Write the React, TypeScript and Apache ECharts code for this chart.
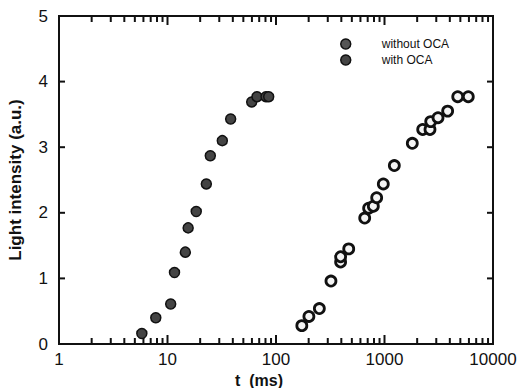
import React, { useEffect, useRef } from "react";
import * as echarts from "echarts";

const seriesNames = ["without OCA", "with OCA"];

const withoutT = [5.8, 7.8, 10.7, 11.6, 14.6, 15.5, 18.4, 22.8, 24.8, 32.0, 38.2, 59.7, 66.8, 80.9, 85.6];
const withoutI = [0.16, 0.40, 0.61, 1.09, 1.40, 1.77, 2.02, 2.44, 2.87, 3.10, 3.43, 3.69, 3.77, 3.77, 3.77];

const withT = [173, 201, 251, 321, 394, 394, 468, 657, 714, 789, 847, 975, 1232, 1804, 2249, 2626, 2666, 3114, 3820, 4731, 5919];
const withI = [0.28, 0.42, 0.54, 0.96, 1.25, 1.33, 1.45, 1.92, 2.07, 2.10, 2.23, 2.44, 2.72, 3.06, 3.27, 3.27, 3.39, 3.45, 3.55, 3.77, 3.77];

const decades = [1, 10, 100, 1000];
const minorMultipliers = [2, 3, 4, 5, 6, 7, 8, 9];
const majorX = [1, 10, 100, 1000, 10000];
const majorY = [1, 2, 3, 4];

const xMin = 1;
const xMax = 10000;
const yMin = 0;
const yMax = 5;

const W = 528;
const H = 388;
const G = { left: 59, right: 35, top: 16, bottom: 44 };

const FONT = "'Liberation Sans', Arial, Helvetica, sans-serif";
const ink = "#111";

function tickSeries(data: number[][], size: number[], offset: number[]) {
  return {
    type: "scatter",
    silent: true,
    clip: false,
    z: 1,
    symbol: "rect",
    symbolSize: size,
    symbolOffset: offset,
    data,
    itemStyle: { color: ink, opacity: 1 },
    emphasis: { disabled: true },
  };
}

export default function App() {
  const ref = useRef<HTMLDivElement>(null);

  useEffect(() => {
    if (!ref.current) return;
    const chart = echarts.init(ref.current, null, { renderer: "svg" });

    const minorX: number[] = [];
    decades.forEach((d) => minorMultipliers.forEach((m) => minorX.push(d * m)));

    const pw = W - G.left - G.right;
    const ph = H - G.top - G.bottom;

    chart.setOption({
      animation: false,
      backgroundColor: "#fff",
      textStyle: { fontFamily: FONT },
      grid: { left: G.left, right: G.right, top: G.top, bottom: G.bottom, containLabel: false, outerBoundsMode: "none" },
      graphic: [
        { type: "rect", z: 10, shape: { x: G.left - 1, y: G.top - 1, width: pw + 2, height: 2 }, style: { fill: ink } },
        { type: "rect", z: 10, shape: { x: G.left - 1, y: G.top + ph - 1, width: pw + 2, height: 2 }, style: { fill: ink } },
        { type: "rect", z: 10, shape: { x: G.left - 1, y: G.top - 1, width: 2, height: ph + 2 }, style: { fill: ink } },
        { type: "rect", z: 10, shape: { x: G.left + pw - 1, y: G.top - 1, width: 2, height: ph + 2 }, style: { fill: ink } },
      ],
      legend: {
        orient: "vertical",
        left: 335,
        top: 33,
        itemWidth: 10,
        itemHeight: 10,
        itemGap: 4,
        icon: "circle",
        textStyle: { fontSize: 12, color: ink, fontFamily: FONT, padding: [0, 0, 0, 26] },
        data: [
          { name: seriesNames[0], itemStyle: { color: "#555", borderColor: ink, borderWidth: 1.5 } },
          { name: seriesNames[1], itemStyle: { color: "#444", borderColor: ink, borderWidth: 1.5 } },
        ],
      },
      xAxis: {
        type: "log",
        logBase: 10,
        min: xMin,
        max: xMax,
        position: "bottom",
        axisLine: { show: true, onZero: false, lineStyle: { color: ink, width: 2 } },
        axisTick: { show: false },
        axisLabel: { fontSize: 17, color: ink, margin: 7, fontFamily: FONT, formatter: (v: number) => String(v) },
        splitLine: { show: false },
        minorTick: { show: false },
        name: "t  (ms)",
        nameLocation: "middle",
        nameGap: 25,
        nameTextStyle: { fontSize: 16, fontWeight: "bold", color: ink, padding: [0, 34, 0, 0], fontFamily: FONT },
      },
      yAxis: {
        type: "value",
        min: yMin,
        max: yMax,
        interval: 1,
        position: "left",
        axisLine: { show: true, onZero: false, lineStyle: { color: ink, width: 2 } },
        axisTick: { show: false },
        axisLabel: { fontSize: 17, color: ink, margin: 11, fontFamily: FONT },
        splitLine: { show: false },
        name: "Light intensity (a.u.)",
        nameLocation: "middle",
        nameGap: 35,
        nameTextStyle: { fontSize: 17, fontWeight: "bold", color: ink, fontFamily: FONT },
      },
      series: [
        tickSeries(minorX.map((v) => [v, yMin]), [2, 6], [0, -3]),
        tickSeries(minorX.map((v) => [v, yMax]), [2, 6], [0, 3]),
        tickSeries(majorX.map((v) => [v, yMin]), [2, 9], [0, -4.5]),
        tickSeries(majorX.map((v) => [v, yMax]), [2, 9], [0, 4.5]),
        tickSeries(majorY.map((v) => [xMin, v]), [6, 2], [3, 0]),
        tickSeries(majorY.map((v) => [xMax, v]), [6, 2], [-3, 0]),
        {
          name: seriesNames[0],
          type: "scatter",
          symbol: "circle",
          symbolSize: 10,
          z: 3,
          data: withoutT.map((t, i) => [t, withoutI[i]]),
          itemStyle: { color: "#444", borderColor: ink, borderWidth: 1.5, opacity: 1 },
        },
        {
          name: seriesNames[1],
          type: "scatter",
          symbol: "circle",
          symbolSize: 10,
          z: 3,
          data: withT.map((t, i) => [t, withI[i]]),
          itemStyle: { color: "#f4f4f4", borderColor: ink, borderWidth: 2.8, opacity: 1 },
        },
      ],
    });

    return () => chart.dispose();
  }, []);

  return <div ref={ref} style={{ width: W, height: H, position: "absolute", left: 0, top: 0 }} />;
}
